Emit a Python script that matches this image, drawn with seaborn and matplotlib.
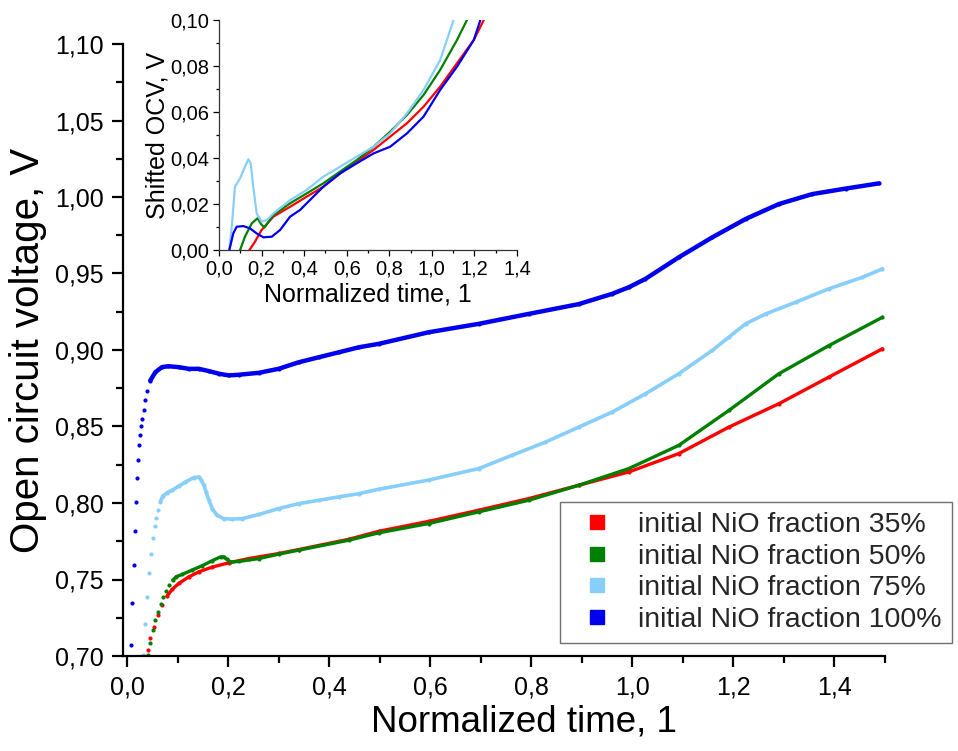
import numpy as np
import pandas as pd
import matplotlib
matplotlib.use("Agg")
import matplotlib.pyplot as plt
from matplotlib.ticker import MultipleLocator, FuncFormatter
from matplotlib.lines import Line2D
import seaborn as sns

# ---------------- data ----------------
labels = ["initial NiO fraction 35%", "initial NiO fraction 50%",
          "initial NiO fraction 75%", "initial NiO fraction 100%"]
colors = ["#ff0000", "#008000", "#87cefa", "#0000ee"]

# main plot: OCV vs normalized time
x35 = [0.0410, 0.0463, 0.0529, 0.0615, 0.0694, 0.0793, 0.0892, 0.1023, 0.1221, 0.1419,
       0.1683, 0.2013, 0.241, 0.3005, 0.340, 0.439, 0.498, 0.597, 0.696, 0.795, 0.894,
       0.993, 1.092, 1.191, 1.290, 1.389, 1.495]
y35 = [0.7039, 0.7115, 0.7187, 0.7268, 0.7333, 0.7392, 0.7435, 0.7474, 0.7517, 0.7550,
       0.7581, 0.7609, 0.7637, 0.7670, 0.7696, 0.7763, 0.7815, 0.7880, 0.7953, 0.8029, 0.8116,
       0.8203, 0.8323, 0.8496, 0.8649, 0.8823, 0.9008]

x50 = [0.0410, 0.0463, 0.051, 0.0562, 0.0615, 0.0667, 0.072, 0.0773, 0.0839, 0.0905,
       0.0971, 0.109, 0.129, 0.1486, 0.168, 0.185, 0.1915, 0.198, 0.2047, 0.2212, 0.261,
       0.3005, 0.340, 0.439, 0.498, 0.597, 0.696, 0.795, 0.894, 0.993, 1.092, 1.191, 1.290,
       1.389, 1.495]
y50 = [0.7007, 0.7087, 0.7170, 0.7235, 0.7290, 0.7340, 0.7383, 0.7427, 0.7464, 0.7496,
       0.7518, 0.7533, 0.7562, 0.7590, 0.7622, 0.7648, 0.7648, 0.7631, 0.7614, 0.7618, 0.7637,
       0.7666, 0.7692, 0.7757, 0.7805, 0.7866, 0.7942, 0.8018, 0.8116, 0.8225, 0.8377, 0.8605,
       0.8845, 0.9029, 0.9214]

x75 = [0.0317, 0.0363, 0.0402, 0.044, 0.0476, 0.0516, 0.055, 0.058, 0.0615, 0.066,
       0.0707, 0.079, 0.089, 0.102, 0.1156, 0.132, 0.142, 0.147, 0.152, 0.1565, 0.162,
       0.1685, 0.178, 0.191, 0.2075, 0.228, 0.261, 0.3005, 0.340, 0.380, 0.419, 0.459,
       0.498, 0.597, 0.696, 0.762, 0.828, 0.894, 0.960, 1.026, 1.092, 1.158, 1.191, 1.224,
       1.264, 1.323, 1.389, 1.455, 1.495]
y75 = [0.7007, 0.7209, 0.7387, 0.7540, 0.7666, 0.7768, 0.7848, 0.7905, 0.7957, 0.8007,
       0.8046, 0.8066, 0.8083, 0.8110, 0.8137, 0.8166, 0.8170, 0.8148, 0.8116, 0.8072, 0.8018,
       0.7964, 0.7920, 0.7898, 0.7894, 0.7898, 0.7925, 0.7964, 0.7996, 0.8018, 0.8040, 0.8061,
       0.8090, 0.8150, 0.8225, 0.8312, 0.8398, 0.8496, 0.8594, 0.8714, 0.8845, 0.8997, 0.9084,
       0.9171, 0.9236, 0.9312, 0.9400, 0.9475, 0.9530]

x100 = [0.0087, 0.0108, 0.0135, 0.0166, 0.0186, 0.0205, 0.0225, 0.0245, 0.0265, 0.0284,
        0.0304, 0.033, 0.0363, 0.0396, 0.046, 0.056, 0.069, 0.082, 0.102, 0.122, 0.142,
        0.162, 0.182, 0.201, 0.221, 0.261, 0.300, 0.340, 0.380, 0.419, 0.459, 0.498, 0.597,
        0.696, 0.795, 0.894, 0.960, 0.993, 1.026, 1.092, 1.158, 1.224, 1.290, 1.356, 1.422,
        1.488]
y100 = [0.7072, 0.7348, 0.7598, 0.7818, 0.8007, 0.8163, 0.8284, 0.8377, 0.8447, 0.8501,
        0.8551, 0.8605, 0.8670, 0.8735, 0.8800, 0.8855, 0.8888, 0.8894, 0.8888, 0.8877, 0.8877,
        0.8862, 0.8845, 0.8834, 0.8838, 0.8851, 0.8877, 0.8920, 0.8953, 0.8985, 0.9018, 0.9040,
        0.9116, 0.9171, 0.9236, 0.9300, 0.9367, 0.9410, 0.9465, 0.9606, 0.9736, 0.9856, 0.9954,
        1.0019, 1.0055, 1.0089]

# inset: shifted OCV vs normalized time
ix35 = [0.143, 0.169, 0.200, 0.2556, 0.334, 0.412, 0.490, 0.569, 0.647, 0.726, 0.804,
        0.883, 0.961, 1.039, 1.118, 1.197, 1.244]
iy35 = [0.0, 0.0036, 0.0087, 0.0145, 0.0188, 0.0232, 0.0275, 0.0333, 0.0384, 0.0435,
        0.0493, 0.0551, 0.0623, 0.0710, 0.0812, 0.0913, 0.1000]
ix50 = [0.099, 0.122, 0.154, 0.181, 0.200, 0.214, 0.2556, 0.334, 0.412, 0.490, 0.569,
        0.647, 0.726, 0.804, 0.883, 0.961, 1.039, 1.118, 1.165]
iy50 = [0.0, 0.0058, 0.0116, 0.0138, 0.0110, 0.0098, 0.0152, 0.0203, 0.0246, 0.0290,
        0.0341, 0.0391, 0.0449, 0.0514, 0.0587, 0.0674, 0.0783, 0.0913, 0.1000]
ix75 = [0.0486, 0.060, 0.075, 0.099, 0.122, 0.138, 0.149, 0.161, 0.177, 0.200, 0.224,
        0.2556, 0.334, 0.412, 0.490, 0.569, 0.647, 0.726, 0.804, 0.883, 0.961, 1.039, 1.102]
iy75 = [0.0, 0.0101, 0.0275, 0.0312, 0.0362, 0.0394, 0.0377, 0.0275, 0.0159, 0.0123,
        0.0130, 0.0159, 0.0217, 0.0261, 0.0319, 0.0362, 0.0406, 0.0449, 0.0507, 0.0594,
        0.0696, 0.0826, 0.1000]
ix100 = [0.0486, 0.067, 0.083, 0.114, 0.146, 0.177, 0.2085, 0.248, 0.287, 0.334, 0.381,
         0.412, 0.490, 0.569, 0.647, 0.726, 0.804, 0.883, 0.961, 1.039, 1.118, 1.197, 1.228]
iy100 = [0.0, 0.0072, 0.0101, 0.0104, 0.0094, 0.0072, 0.0055, 0.0058, 0.0087, 0.0145,
         0.0174, 0.0203, 0.0275, 0.0333, 0.0377, 0.0420, 0.0449, 0.0507, 0.0580, 0.0696,
         0.0797, 0.0913, 0.1000]

main_x = [x35, x50, x75, x100]
main_y = [y35, y50, y75, y100]
ins_x = [ix35, ix50, ix75, ix100]
ins_y = [iy35, iy50, iy75, iy100]

# style: where the sparse dotted start turns into a dense (line-like) trace
dense_from = [0.07, 0.09, 0.066, 0.04]
line_widths = [2.4, 2.4, 2.6, 3.2]

# ---------------- figure ----------------
sns.set_theme(style="ticks")
plt.rcParams["font.family"] = ["Liberation Sans", "DejaVu Sans"]

fig = plt.figure(figsize=(9.58, 7.51), dpi=100)
ax = fig.add_axes([123 / 958, 1 - 656 / 751, 762 / 958, 612 / 751])

for lab, col, xs, ys, thr, lw in zip(labels, colors, main_x, main_y, dense_from, line_widths):
    df = pd.DataFrame({"x": xs, "y": ys})
    sns.scatterplot(data=df, x="x", y="y", color=col, s=9, linewidth=0, ax=ax, legend=False)
    dd = df[df["x"] >= thr]
    sns.lineplot(data=dd, x="x", y="y", color=col, linewidth=lw, ax=ax, sort=False,
                 estimator=None, legend=False)

ax.set_xlim(-0.008, 1.5)
ax.set_ylim(0.70, 1.10)
ax.xaxis.set_major_locator(MultipleLocator(0.2))
ax.xaxis.set_minor_locator(MultipleLocator(0.1))
ax.yaxis.set_major_locator(MultipleLocator(0.05))
ax.yaxis.set_minor_locator(MultipleLocator(0.025))
ax.xaxis.set_major_formatter(FuncFormatter(lambda v, p: f"{v:.1f}".replace(".", ",")))
ax.yaxis.set_major_formatter(FuncFormatter(lambda v, p: f"{v:.2f}".replace(".", ",")))
for s in ["top", "right"]:
    ax.spines[s].set_visible(False)
for s in ["left", "bottom"]:
    ax.spines[s].set_linewidth(1.6)
    ax.spines[s].set_color("black")
ax.tick_params(which="major", direction="out", length=8, width=1.6, labelsize=18,
               colors="black", pad=6)
ax.tick_params(which="minor", direction="out", length=5, width=1.6, colors="black")
ax.set_xlabel("Normalized time, 1", fontsize=26.5, color="black")
ax.set_ylabel("Open circuit voltage, V", fontsize=29, color="black")
ax.xaxis.set_label_coords(0.526, -0.08)
ax.yaxis.set_label_coords(-0.1, 0.5)
ax.set_facecolor("white")

# legend
handles = [Line2D([], [], marker="s", linestyle="none", markersize=10,
                  markerfacecolor=c, markeredgecolor=c) for c in colors]
leg = fig.legend(handles, labels, loc="upper left",
                 bbox_to_anchor=(560 / 958, 1 - 502 / 751), fontsize=20.5,
                 frameon=True, fancybox=False, framealpha=1, edgecolor="#707070",
                 handlelength=1.9, handletextpad=0.5, labelspacing=0.2,
                 borderpad=0.35, borderaxespad=0)
leg.get_frame().set_linewidth(1.0)

# inset
axi = fig.add_axes([219 / 958, 1 - 250 / 751, 298 / 958, 230 / 751])
for col, xs, ys in zip(colors, ins_x, ins_y):
    d = pd.DataFrame({"x": xs, "y": ys})
    sns.lineplot(data=d, x="x", y="y", color=col, linewidth=1.6, ax=axi, sort=False,
                 estimator=None, legend=False)
axi.set_xlim(0, 1.4)
axi.set_ylim(0, 0.10)
axi.xaxis.set_major_locator(MultipleLocator(0.2))
axi.xaxis.set_minor_locator(MultipleLocator(0.1))
axi.yaxis.set_major_locator(MultipleLocator(0.02))
axi.yaxis.set_minor_locator(MultipleLocator(0.01))
axi.xaxis.set_major_formatter(FuncFormatter(lambda v, p: f"{v:.1f}".replace(".", ",")))
axi.yaxis.set_major_formatter(FuncFormatter(lambda v, p: f"{v:.2f}".replace(".", ",")))
for s in ["top", "right"]:
    axi.spines[s].set_visible(False)
for s in ["left", "bottom"]:
    axi.spines[s].set_linewidth(0.9)
    axi.spines[s].set_color("#333333")
axi.tick_params(which="major", direction="out", length=4, width=0.9, labelsize=14.5,
                colors="black", pad=3)
axi.tick_params(which="minor", direction="out", length=2.5, width=0.9, colors="black")
axi.set_xlabel("Normalized time, 1", fontsize=18, color="black")
axi.set_ylabel("Shifted OCV, V", fontsize=18, color="black")
axi.xaxis.set_label_coords(0.5, -0.14)
axi.yaxis.set_label_coords(-0.165, 0.5)
axi.patch.set_alpha(0)

fig.savefig("out.png", dpi=100, facecolor="white")
